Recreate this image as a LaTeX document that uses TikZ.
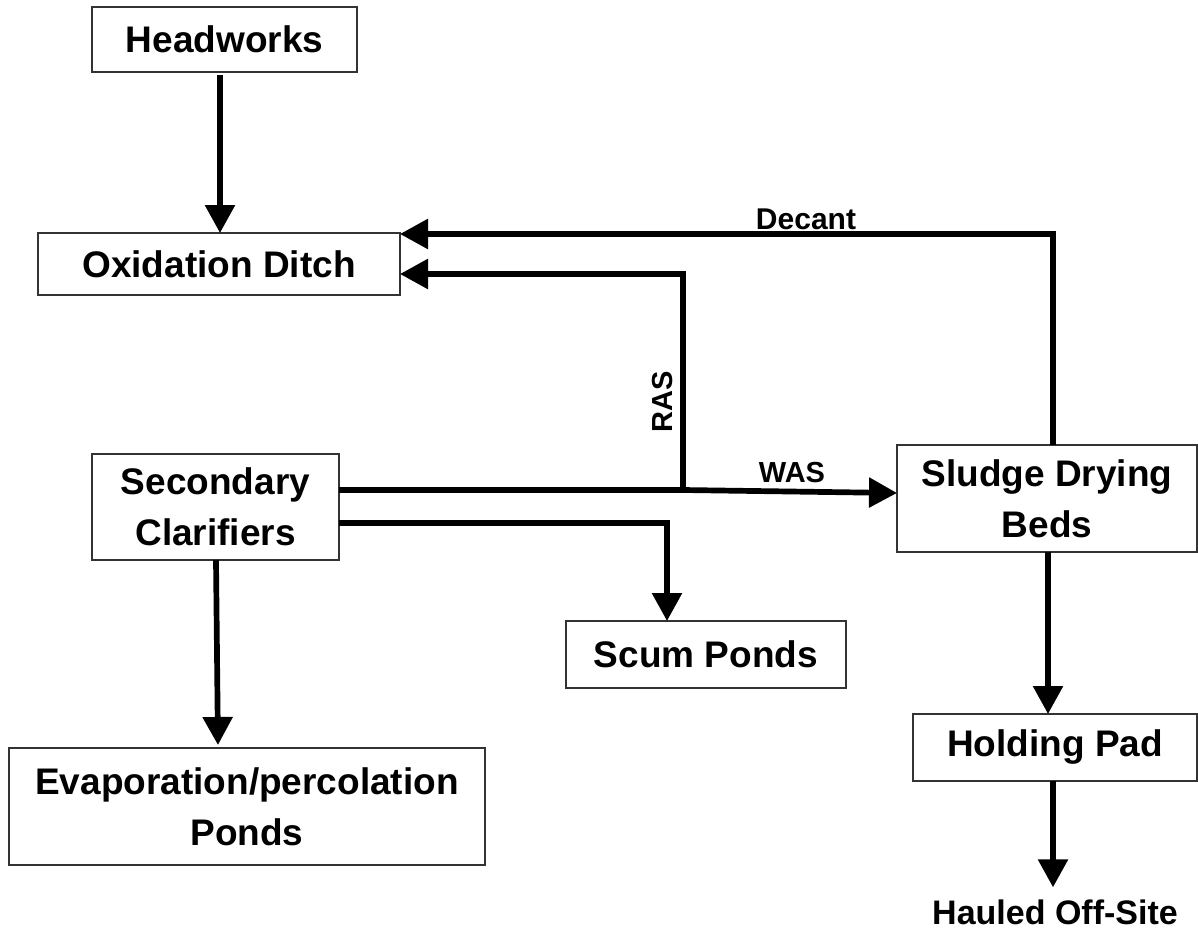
\documentclass[tikz,border=0pt]{standalone}
\usepackage{fontspec}
\setmainfont{Liberation Sans}
\usetikzlibrary{arrows.meta}
\tikzset{
  box/.style={draw=black!80, line width=1.4pt, fill=white, inner sep=0pt, outer sep=0pt,
    align=center, font=\bfseries\fontsize{37}{51}\selectfont},
  lbl/.style={inner sep=0pt, font=\bfseries\fontsize{29}{34}\selectfont},
  flow/.style={line width=5.7pt, line join=miter, -{Triangle[length=28pt,width=29pt]}}
}
\begin{document}
\begin{tikzpicture}[x=1pt,y=-1pt]
\useasboundingbox (0,0) rectangle (1198,937);
% boxes
\node[box, minimum width=265pt, minimum height=65pt] (head) at (224.5,39.5) {Headworks};
\node[box, minimum width=362pt, minimum height=62pt] (oxid) at (219,264) {Oxidation Ditch};
\node[box, minimum width=247pt, minimum height=106pt] (clar) at (215.5,507) {Secondary\\Clarifiers};
\node[box, minimum width=280pt, minimum height=67pt] (scum) at (706,654.5) {Scum Ponds};
\node[box, minimum width=476pt, minimum height=117pt] (evap) at (247,806.5) {Evaporation/percolation\\Ponds};
\node[box, minimum width=300pt, minimum height=107pt] (sludge) at (1047,498.5) {Sludge Drying\\Beds};
\node[box, minimum width=284pt, minimum height=67pt] (hold) at (1055,747.5) {Holding Pad};
\node[inner sep=0pt, font=\bfseries\fontsize{34}{41}\selectfont] (hauled) at (1055,912) {Hauled Off-Site};
% labels
\node[lbl, font=\bfseries\fontsize{30}{35}\selectfont] (decant) at (806,219) {Decant};
\node[lbl, rotate=90] (ras) at (663,402) {RAS};
\node[lbl] (was) at (792,473) {WAS};
% helper coordinates
\coordinate (c220) at (220,0);
\coordinate (dx) at (1053,234);
\coordinate (rx) at (683,274);
\coordinate (jn) at (683,490);
\coordinate (wasend) at (897,493);
\coordinate (sx) at (667,523);
\coordinate (e1) at (216,0);
\coordinate (e2) at (218,0);
\coordinate (h1) at (1048,0);
\coordinate (h2) at (1053,0);
% connectors
\draw[flow, shorten <=3pt] (head.south -| c220) -- (oxid.north -| c220);
\draw[flow] (sludge.north -| dx) -- (dx) -- (oxid.east |- dx);
\draw[flow] (jn) -- (rx) -- (oxid.east |- rx);
\draw[flow] (clar.east |- jn) -- (jn) -- (sludge.west |- wasend);
\draw[flow] (clar.east |- sx) -- (sx) -- (scum.north -| sx);
\draw[flow, shorten >=3pt] (clar.south -| e1) -- (evap.north -| e2);
\draw[flow] (sludge.south -| h1) -- (hold.north -| h1);
\draw[flow, shorten >=12pt] (hold.south -| h2) -- (hauled.north -| h2);
\end{tikzpicture}
\end{document}
